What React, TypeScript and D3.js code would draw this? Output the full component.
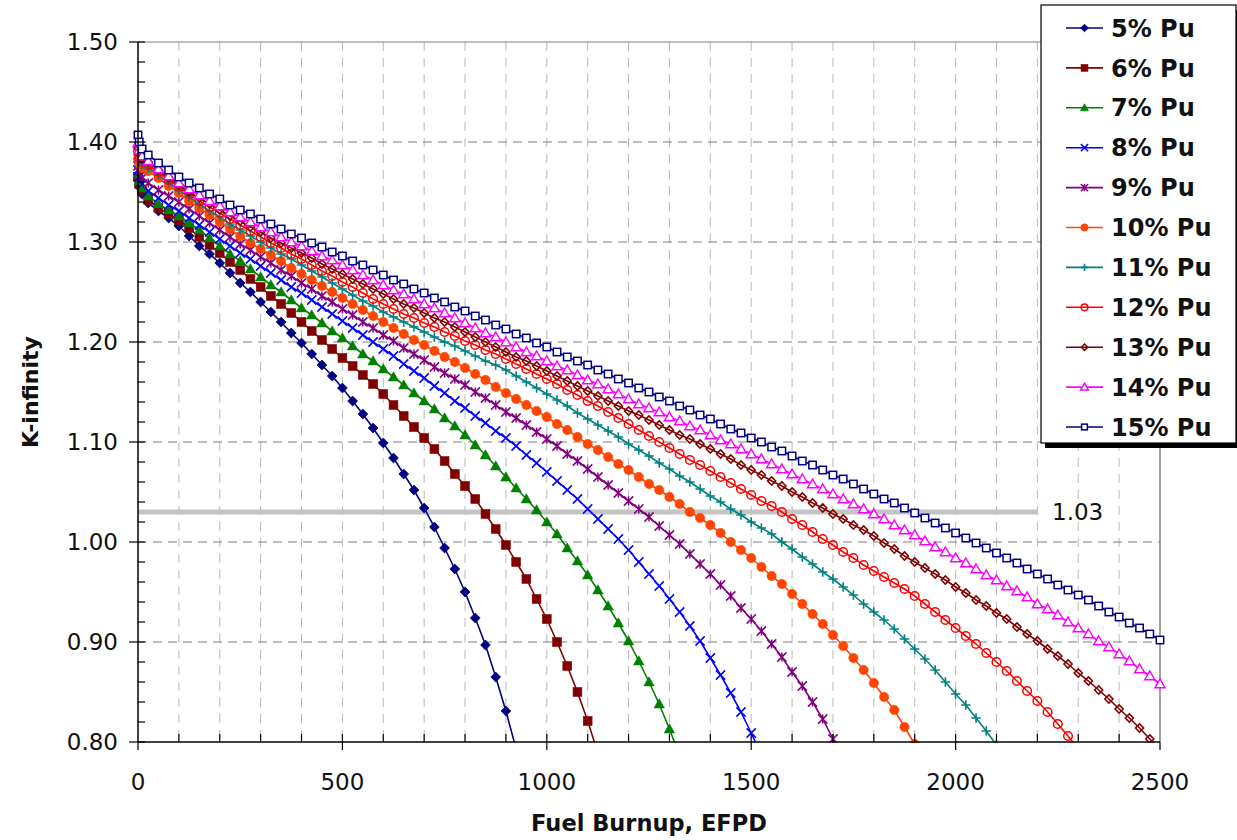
import React from 'react';
import * as d3 from 'd3';

// Burnup steps (EFPD)
const burnup = [
  0, 3, 10,
  25, 50, 75, 100, 125, 150, 175, 200, 225, 250, 275, 300, 325, 350, 375, 400, 425, 450, 475, 500,
  525, 550, 575, 600, 625, 650, 675, 700, 725, 750, 775, 800, 825, 850, 875, 900, 925, 950, 975, 1000,
  1025, 1050, 1075, 1100, 1125, 1150, 1175, 1200, 1225, 1250, 1275, 1300, 1325, 1350, 1375, 1400, 1425, 1450, 1475, 1500,
  1525, 1550, 1575, 1600, 1625, 1650, 1675, 1700, 1725, 1750, 1775, 1800, 1825, 1850, 1875, 1900, 1925, 1950, 1975, 2000,
  2025, 2050, 2075, 2100, 2125, 2150, 2175, 2200, 2225, 2250, 2275, 2300, 2325, 2350, 2375, 2400, 2425, 2450, 2475, 2500,
];

const pu5 = [
  1.362, 1.355, 1.348,
  1.339, 1.331, 1.324, 1.316, 1.306, 1.296, 1.288, 1.279, 1.269, 1.259, 1.250, 1.240, 1.230, 1.220, 1.209, 1.199, 1.188, 1.177, 1.166, 1.154,
  1.141, 1.128, 1.114, 1.099, 1.084, 1.068, 1.052, 1.034, 1.015, 0.994, 0.973, 0.950, 0.924, 0.897, 0.865, 0.831, 0.793,
];
const pu6 = [
  1.365, 1.358, 1.351,
  1.342, 1.334, 1.328, 1.322, 1.314, 1.305, 1.297, 1.289, 1.280, 1.272, 1.263, 1.255, 1.246, 1.238, 1.229, 1.220, 1.211, 1.202, 1.193, 1.184,
  1.176, 1.167, 1.158, 1.148, 1.137, 1.126, 1.115, 1.104, 1.093, 1.081, 1.068, 1.056, 1.043, 1.028, 1.013, 0.997, 0.980, 0.963, 0.943, 0.923,
  0.900, 0.876, 0.850, 0.821, 0.789,
];
const pu7 = [
  1.368, 1.361, 1.354,
  1.346, 1.338, 1.332, 1.326, 1.319, 1.312, 1.304, 1.296, 1.288, 1.281, 1.273, 1.265, 1.257, 1.250, 1.242, 1.234, 1.227, 1.219, 1.211, 1.204,
  1.196, 1.188, 1.181, 1.173, 1.165, 1.157, 1.149, 1.141, 1.133, 1.124, 1.116, 1.107, 1.097, 1.087, 1.076, 1.065, 1.054, 1.043, 1.032, 1.020,
  1.008, 0.994, 0.981, 0.967, 0.952, 0.936, 0.919, 0.901, 0.881, 0.860, 0.838, 0.813, 0.786,
];
const pu8 = [
  1.372, 1.365, 1.358,
  1.351, 1.344, 1.337, 1.331, 1.324, 1.317, 1.310, 1.303, 1.296, 1.289, 1.283, 1.276, 1.269, 1.262, 1.255, 1.249, 1.242, 1.235, 1.228, 1.221,
  1.214, 1.207, 1.200, 1.193, 1.186, 1.178, 1.171, 1.164, 1.156, 1.149, 1.141, 1.134, 1.126, 1.119, 1.111, 1.104, 1.096, 1.087, 1.079, 1.070,
  1.061, 1.052, 1.043, 1.033, 1.023, 1.013, 1.003, 0.992, 0.980, 0.968, 0.956, 0.943, 0.930, 0.916, 0.901, 0.884, 0.867, 0.849, 0.830, 0.809,
  0.787,
];
const pu9 = [
  1.376, 1.370, 1.364,
  1.359, 1.352, 1.346, 1.340, 1.333, 1.326, 1.319, 1.312, 1.305, 1.298, 1.292, 1.285, 1.279, 1.272, 1.266, 1.259, 1.253, 1.246, 1.240, 1.233,
  1.227, 1.220, 1.214, 1.207, 1.201, 1.194, 1.188, 1.182, 1.175, 1.169, 1.163, 1.157, 1.150, 1.144, 1.137, 1.130, 1.124, 1.117, 1.110, 1.103,
  1.096, 1.088, 1.081, 1.073, 1.065, 1.057, 1.049, 1.041, 1.033, 1.025, 1.016, 1.007, 0.998, 0.988, 0.978, 0.968, 0.957, 0.946, 0.934, 0.923,
  0.911, 0.898, 0.885, 0.870, 0.856, 0.840, 0.823, 0.803, 0.784,
];
const pu10 = [
  1.383, 1.378, 1.374,
  1.371, 1.364, 1.356, 1.349, 1.341, 1.334, 1.327, 1.320, 1.313, 1.306, 1.299, 1.293, 1.287, 1.281, 1.274, 1.268, 1.262, 1.256, 1.250, 1.244,
  1.238, 1.232, 1.226, 1.220, 1.214, 1.208, 1.202, 1.197, 1.191, 1.185, 1.180, 1.174, 1.168, 1.162, 1.155, 1.149, 1.143, 1.137, 1.131, 1.125,
  1.118, 1.112, 1.105, 1.098, 1.092, 1.085, 1.078, 1.072, 1.065, 1.058, 1.052, 1.045, 1.038, 1.030, 1.024, 1.017, 1.009, 1.000, 0.992, 0.984,
  0.975, 0.966, 0.958, 0.948, 0.938, 0.928, 0.918, 0.907, 0.896, 0.884, 0.872, 0.859, 0.845, 0.832, 0.815, 0.798,
];
const pu11 = [
  1.387, 1.381, 1.377,
  1.374, 1.367, 1.359, 1.352, 1.345, 1.338, 1.331, 1.325, 1.318, 1.312, 1.306, 1.300, 1.294, 1.288, 1.283, 1.277, 1.271, 1.265, 1.259, 1.253,
  1.247, 1.241, 1.236, 1.230, 1.225, 1.220, 1.215, 1.210, 1.205, 1.200, 1.196, 1.191, 1.186, 1.181, 1.177, 1.172, 1.166, 1.160, 1.154, 1.148,
  1.142, 1.136, 1.129, 1.123, 1.117, 1.111, 1.105, 1.098, 1.092, 1.086, 1.079, 1.073, 1.066, 1.060, 1.053, 1.046, 1.040, 1.033, 1.027, 1.020,
  1.014, 1.008, 1.000, 0.993, 0.985, 0.978, 0.970, 0.963, 0.955, 0.947, 0.938, 0.930, 0.922, 0.913, 0.903, 0.893, 0.883, 0.872, 0.860, 0.848,
  0.837, 0.824, 0.811, 0.797,
];
const pu12 = [
  1.391, 1.385, 1.380,
  1.377, 1.370, 1.362, 1.355, 1.348, 1.341, 1.335, 1.329, 1.323, 1.317, 1.311, 1.305, 1.299, 1.294, 1.288, 1.283, 1.277, 1.271, 1.266, 1.260,
  1.255, 1.249, 1.243, 1.238, 1.233, 1.228, 1.224, 1.219, 1.215, 1.210, 1.206, 1.201, 1.197, 1.192, 1.188, 1.183, 1.178, 1.173, 1.168, 1.163,
  1.158, 1.152, 1.147, 1.141, 1.136, 1.130, 1.124, 1.118, 1.112, 1.106, 1.100, 1.094, 1.088, 1.082, 1.077, 1.071, 1.065, 1.059, 1.053, 1.047,
  1.041, 1.036, 1.030, 1.023, 1.017, 1.010, 1.003, 0.997, 0.990, 0.984, 0.977, 0.971, 0.965, 0.959, 0.953, 0.946, 0.938, 0.930, 0.922, 0.914,
  0.906, 0.898, 0.889, 0.880, 0.871, 0.861, 0.851, 0.841, 0.830, 0.818, 0.806, 0.793,
];
const pu13 = [
  1.394, 1.388, 1.383,
  1.380, 1.372, 1.364, 1.357, 1.350, 1.344, 1.338, 1.332, 1.326, 1.321, 1.315, 1.310, 1.304, 1.299, 1.294, 1.289, 1.284, 1.278, 1.273, 1.268,
  1.263, 1.258, 1.253, 1.248, 1.243, 1.238, 1.234, 1.229, 1.224, 1.220, 1.215, 1.210, 1.205, 1.200, 1.195, 1.190, 1.185, 1.181, 1.176, 1.171,
  1.166, 1.161, 1.156, 1.151, 1.146, 1.141, 1.136, 1.131, 1.127, 1.122, 1.117, 1.112, 1.107, 1.103, 1.098, 1.093, 1.088, 1.083, 1.077, 1.072,
  1.067, 1.061, 1.056, 1.050, 1.045, 1.039, 1.034, 1.028, 1.023, 1.017, 1.012, 1.006, 0.999, 0.993, 0.986, 0.980, 0.974, 0.968, 0.962, 0.955,
  0.949, 0.942, 0.936, 0.929, 0.923, 0.915, 0.908, 0.901, 0.893, 0.886, 0.878, 0.869, 0.861, 0.852, 0.843, 0.833, 0.824, 0.814, 0.803, 0.792,
];
const pu14 = [
  1.399, 1.392, 1.386,
  1.381, 1.373, 1.366, 1.359, 1.353, 1.347, 1.341, 1.336, 1.330, 1.325, 1.320, 1.315, 1.310, 1.305, 1.300, 1.296, 1.291, 1.286, 1.282, 1.277,
  1.272, 1.267, 1.262, 1.257, 1.252, 1.248, 1.243, 1.238, 1.234, 1.229, 1.224, 1.219, 1.214, 1.209, 1.205, 1.200, 1.195, 1.190, 1.186, 1.181,
  1.176, 1.172, 1.167, 1.162, 1.158, 1.153, 1.148, 1.143, 1.138, 1.134, 1.130, 1.125, 1.121, 1.116, 1.112, 1.107, 1.102, 1.098, 1.093, 1.088,
  1.083, 1.078, 1.073, 1.068, 1.063, 1.058, 1.053, 1.048, 1.043, 1.038, 1.033, 1.028, 1.023, 1.017, 1.012, 1.007, 1.001, 0.995, 0.990, 0.984,
  0.979, 0.973, 0.967, 0.962, 0.956, 0.951, 0.945, 0.938, 0.933, 0.927, 0.920, 0.914, 0.908, 0.901, 0.895, 0.888, 0.881, 0.873, 0.866, 0.858,
];
const pu15 = [
  1.407, 1.400, 1.393,
  1.387, 1.379, 1.372, 1.365, 1.359, 1.354, 1.348, 1.343, 1.337, 1.332, 1.328, 1.323, 1.318, 1.313, 1.308, 1.304, 1.299, 1.295, 1.290, 1.286,
  1.281, 1.277, 1.272, 1.267, 1.262, 1.258, 1.253, 1.249, 1.244, 1.240, 1.235, 1.231, 1.226, 1.222, 1.217, 1.213, 1.208, 1.204, 1.199, 1.195,
  1.190, 1.185, 1.181, 1.177, 1.172, 1.168, 1.163, 1.159, 1.154, 1.150, 1.145, 1.141, 1.136, 1.132, 1.127, 1.123, 1.118, 1.113, 1.109, 1.104,
  1.100, 1.095, 1.091, 1.086, 1.081, 1.077, 1.072, 1.067, 1.063, 1.058, 1.053, 1.048, 1.043, 1.039, 1.034, 1.029, 1.024, 1.019, 1.014, 1.009,
  1.004, 0.999, 0.994, 0.989, 0.984, 0.979, 0.973, 0.968, 0.963, 0.957, 0.952, 0.947, 0.942, 0.936, 0.930, 0.925, 0.919, 0.914, 0.908, 0.902,
];

const seriesNames = ['5% Pu', '6% Pu', '7% Pu', '8% Pu', '9% Pu', '10% Pu', '11% Pu', '12% Pu', '13% Pu', '14% Pu', '15% Pu'];
const seriesValues = [pu5, pu6, pu7, pu8, pu9, pu10, pu11, pu12, pu13, pu14, pu15];
const seriesColors = ['#000080', '#800000', '#008000', '#0000FF', '#800080', '#FF4500', '#008080', '#FF0000', '#800000', '#FF00FF', '#000080'];
const seriesMarkers = ['diamondF', 'squareF', 'triangleF', 'x', 'star', 'circleF', 'plus', 'circleO', 'diamondO', 'triangleO', 'squareO'];

const yTickValues = [0.8, 0.9, 1.0, 1.1, 1.2, 1.3, 1.4, 1.5];
const yTickLabels = ['0.80', '0.90', '1.00', '1.10', '1.20', '1.30', '1.40', '1.50'];
const xTickValues = [0, 500, 1000, 1500, 2000, 2500];
const xTickLabels = ['0', '500', '1000', '1500', '2000', '2500'];
const refLevel = 1.03;
const refLabel = '1.03';
const refEnd = 2200;

const FONT = "Tahoma, 'DejaVu Sans', Verdana, sans-serif";

function markerShape(type: string, cx: number, cy: number, color: string, scale: number, key: any) {
  const sw = 1.5;
  switch (type) {
    case 'diamondF': {
      const h = 4.9 * scale;
      return <path key={key} d={`M${cx},${cy - h}L${cx + h},${cy}L${cx},${cy + h}L${cx - h},${cy}Z`} fill={color} stroke={color} strokeWidth={0.8} />;
    }
    case 'diamondO': {
      const h = 4.1 * scale;
      return <path key={key} d={`M${cx},${cy - h}L${cx + h},${cy}L${cx},${cy + h}L${cx - h},${cy}Z`} fill="none" stroke={color} strokeWidth={sw} />;
    }
    case 'squareF': {
      const h = 4.4 * scale;
      return <rect key={key} x={cx - h} y={cy - h} width={2 * h} height={2 * h} fill={color} stroke={color} strokeWidth={0.6} />;
    }
    case 'squareO': {
      const h = 3.7 * scale;
      return <rect key={key} x={cx - h} y={cy - h} width={2 * h} height={2 * h} fill="#fff" stroke={color} strokeWidth={sw} />;
    }
    case 'triangleF': {
      const h = 5.2 * scale;
      return <path key={key} d={`M${cx},${cy - h}L${cx + h},${cy + h * 0.75}L${cx - h},${cy + h * 0.75}Z`} fill={color} stroke={color} strokeWidth={0.6} />;
    }
    case 'triangleO': {
      const h = 5 * scale;
      return <path key={key} d={`M${cx},${cy - h}L${cx + h},${cy + h * 0.75}L${cx - h},${cy + h * 0.75}Z`} fill="#fff" stroke={color} strokeWidth={sw} />;
    }
    case 'x': {
      const h = 4.6 * scale;
      return <path key={key} d={`M${cx - h},${cy - h}L${cx + h},${cy + h}M${cx - h},${cy + h}L${cx + h},${cy - h}`} fill="none" stroke={color} strokeWidth={1.5} />;
    }
    case 'star': {
      const h = 4.6 * scale;
      return <path key={key} d={`M${cx - h},${cy - h}L${cx + h},${cy + h}M${cx - h},${cy + h}L${cx + h},${cy - h}M${cx},${cy - h}L${cx},${cy + h}`} fill="none" stroke={color} strokeWidth={1.5} />;
    }
    case 'plus': {
      const h = 4.7 * scale;
      return <path key={key} d={`M${cx - h},${cy}L${cx + h},${cy}M${cx},${cy - h}L${cx},${cy + h}`} fill="none" stroke={color} strokeWidth={1.6} />;
    }
    case 'circleF': {
      return <circle key={key} cx={cx} cy={cy} r={4.7 * scale} fill={color} stroke={color} strokeWidth={0.5} />;
    }
    case 'circleO': {
      return <circle key={key} cx={cx} cy={cy} r={4.3 * scale} fill="none" stroke={color} strokeWidth={sw} />;
    }
    default:
      return null;
  }
}

export default function App() {
  const W = 1237;
  const H = 840;
  const left = 138, right = 1160, top = 42, bottom = 742;

  const x = d3.scaleLinear().domain([0, 2500]).range([left, right]);
  const y = d3.scaleLinear().domain([0.8, 1.5]).range([bottom, top]);

  const minorX = d3.range(100, 2500, 100);
  const minorY = d3.range(0, 36).map((i) => 0.8 + i * 0.02);
  const gridY = [0.9, 1.0, 1.1, 1.2, 1.3, 1.4];

  const line = d3
    .line<[number, number]>()
    .x((d) => x(d[0]))
    .y((d) => y(d[1]));

  const legendX = 1041, legendY = 5, legendW = 195, legendH = 438;
  const rowY0 = 28, rowStep = 39.9;

  return (
    <svg width={W} height={H} style={{ position: 'absolute', left: 0, top: 0, background: '#fff' }} fontFamily={FONT}>
      <defs>
        <clipPath id="plotClip">
          <rect x={0} y={0} width={W} height={bottom + 0.5} />
        </clipPath>
      </defs>
      <rect x={0} y={0} width={W} height={H} fill="#fff" />

      {/* vertical grid */}
      {minorX.map((v) => (
        <line key={'gx' + v} x1={x(v)} x2={x(v)} y1={top} y2={bottom} stroke="#b8b8b8" strokeWidth={1} strokeDasharray="9,7" />
      ))}
      {/* horizontal grid */}
      {gridY.map((v) => (
        <line key={'gy' + v} x1={left} x2={right} y1={Math.round(y(v))} y2={Math.round(y(v))} stroke="#7f7f7f" strokeWidth={1} strokeDasharray="9,6" />
      ))}
      {/* plot border top/right */}
      <line x1={left} x2={right} y1={top} y2={top} stroke="#808080" strokeWidth={1} />
      <line x1={right} x2={right} y1={top} y2={bottom} stroke="#808080" strokeWidth={1.5} />

      {/* reference line 1.03 */}
      <line x1={x(0)} x2={x(refEnd)} y1={y(refLevel)} y2={y(refLevel)} stroke="#c4c4c4" strokeWidth={5} />
      <text x={1052} y={y(refLevel)} dy="0.36em" fontSize={23} fill="#111">{refLabel}</text>

      {/* series */}
      <g clipPath="url(#plotClip)">
        {seriesValues.map((vals, si) => {
          const pts: [number, number][] = vals.map((v, i) => [burnup[i], v]);
          return (
            <g key={'s' + si}>
              <path d={line(pts) || ''} fill="none" stroke={seriesColors[si]} strokeWidth={1.6} />
              {pts.map((p, i) => markerShape(seriesMarkers[si], x(p[0]), y(p[1]), seriesColors[si], 1, i))}
            </g>
          );
        })}
      </g>

      {/* axes */}
      <line x1={left} x2={left} y1={top} y2={bottom} stroke="#000" strokeWidth={1.5} />
      <line x1={left} x2={right} y1={bottom} y2={bottom} stroke="#000" strokeWidth={1.5} />
      {minorY.map((v, i) => (
        <line key={'my' + i} x1={left} x2={left + 7} y1={Math.round(y(v))} y2={Math.round(y(v))} stroke="#000" strokeWidth={1.2} />
      ))}
      {yTickValues.map((v, i) => (
        <g key={'yt' + i}>
          <line x1={left - 9} x2={left} y1={Math.round(y(v))} y2={Math.round(y(v))} stroke="#000" strokeWidth={1.2} />
          <text x={118} y={y(v)} dy="0.36em" textAnchor="end" fontSize={23} fill="#111">{yTickLabels[i]}</text>
        </g>
      ))}
      {minorX.map((v) => (
        <line key={'mx' + v} x1={x(v)} x2={x(v)} y1={bottom - 8} y2={bottom} stroke="#000" strokeWidth={1.2} />
      ))}
      {xTickValues.map((v, i) => (
        <g key={'xt' + i}>
          <line x1={x(v)} x2={x(v)} y1={bottom} y2={bottom + 8} stroke="#000" strokeWidth={1.2} />
          <text x={x(v)} y={790} textAnchor="middle" fontSize={23} fill="#111">{xTickLabels[i]}</text>
        </g>
      ))}

      {/* axis titles */}
      <text x={(left + right) / 2} y={831} textAnchor="middle" fontSize={22.5} fontWeight="bold" fill="#111">Fuel Burnup, EFPD</text>
      <text transform={`translate(38,${(top + bottom) / 2}) rotate(-90)`} textAnchor="middle" fontSize={22} fontWeight="bold" fill="#111">K-infinity</text>

      {/* legend */}
      <rect x={legendX + 4} y={legendY + 5} width={legendW} height={legendH} fill="#000" />
      <rect x={legendX} y={legendY} width={legendW} height={legendH} fill="#fff" stroke="#000" strokeWidth={1.2} />
      {seriesNames.map((name, i) => {
        const ry = rowY0 + i * rowStep;
        return (
          <g key={'lg' + i}>
            <line x1={1066} x2={1103} y1={ry} y2={ry} stroke={seriesColors[i]} strokeWidth={1.6} />
            {markerShape(seriesMarkers[i], 1084.5, ry, seriesColors[i], 0.78, 'm')}
            <text x={1111} y={ry} dy="0.36em" fontSize={24} fontWeight="bold" fill="#111">{name}</text>
          </g>
        );
      })}
    </svg>
  );
}
